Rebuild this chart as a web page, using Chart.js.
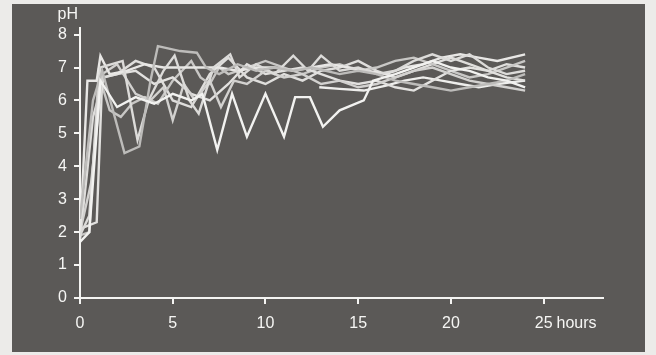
<!DOCTYPE html>
<html><head><meta charset="utf-8">
<script src="https://cdn.jsdelivr.net/npm/chart.js@4/dist/chart.umd.min.js"></script>
<style>
html,body{margin:0;padding:0;background:#ecebe9;width:656px;height:355px;overflow:hidden;}
#panel{position:absolute;left:12px;top:4px;width:633px;height:348px;background:#5b5957;}
canvas{display:block;}
</style></head><body>
<div id="panel"><canvas id="c" width="633" height="348"></canvas></div>
<script>
const xTicks = [0, 5, 10, 15, 20, 25];
const yTicks = [0, 1, 2, 3, 4, 5, 6, 7, 8];
const xUnit = 'hours';
const yUnit = 'pH';

const t1 = [0, 0.5, 1.1, 2, 3, 4, 5, 6, 6.6, 7.4, 8.2, 9, 10, 11, 11.6, 12.4, 13.1, 14, 15.3, 15.8, 17, 18, 19, 20, 21, 22, 23, 24];
const p1 = [1.7, 2.0, 6.6, 5.8, 6.1, 5.9, 6.2, 6.0, 6.2, 4.5, 6.2, 4.9, 6.2, 4.9, 6.1, 6.1, 5.2, 5.7, 6.0, 6.6, 6.8, 7.0, 7.2, 7.0, 6.9, 6.7, 6.6, 6.4];
const t2 = [0, 0.7, 1.2, 2.4, 3.2, 3.8, 4.2, 5.4, 6.3, 6.8, 7.5, 8.5, 9.5, 10.5, 11.5, 12.5, 14, 15, 16, 17, 18, 19, 20, 21, 22, 23, 24];
const p2 = [2.4, 6.0, 6.9, 4.4, 4.6, 6.6, 7.65, 7.5, 7.45, 7.0, 6.8, 7.1, 6.9, 7.0, 6.9, 7.0, 6.8, 6.9, 6.8, 6.6, 6.5, 6.4, 6.3, 6.4, 6.5, 6.6, 6.8];
const t3 = [0, 0.5, 1.1, 2.3, 3.1, 3.7, 4.5, 5.1, 5.9, 6.4, 7.2, 8.1, 8.6, 9.5, 10.5, 11.5, 12.3, 13, 14, 15, 16, 17, 18, 19, 20, 21, 22, 23, 24];
const p3 = [1.9, 2.5, 7.0, 7.2, 4.8, 6.0, 6.9, 7.36, 6.0, 5.6, 7.0, 7.4, 6.7, 7.1, 6.8, 7.36, 6.9, 7.36, 6.9, 7.0, 6.8, 6.9, 7.2, 7.4, 7.2, 7.4, 7.0, 6.8, 6.9];
const t4 = [0, 0.4, 0.9, 1.1, 1.6, 2.5, 3.5, 4.5, 5.5, 6.5, 7.5, 8.5, 9.5, 10.5, 11.5, 12.5, 13.5, 14.5, 15.5, 16.5, 17.5, 18.5, 19.5, 20.5, 21.5, 22.5, 24];
const p4 = [1.8, 6.6, 6.6, 7.35, 6.8, 6.9, 7.1, 7.0, 7.0, 7.0, 7.0, 6.9, 7.0, 7.0, 6.9, 7.0, 7.1, 7.0, 6.9, 6.8, 7.0, 7.1, 7.3, 7.4, 7.3, 7.2, 7.4];
const t5 = [0, 0.6, 1.2, 2, 3, 3.8, 4.5, 5, 5.6, 6.2, 7, 7.6, 8.3, 9, 10, 11, 12, 13, 14, 15, 16, 17, 18, 19, 20, 21, 22, 23, 24];
const p5 = [2.0, 3.5, 6.8, 7.1, 6.2, 6.0, 6.4, 5.4, 6.5, 6.0, 6.6, 5.8, 6.6, 6.5, 6.9, 6.7, 6.8, 6.5, 6.6, 6.4, 6.5, 6.7, 6.9, 7.0, 6.8, 6.6, 6.5, 6.4, 6.3];
const t6 = [0, 0.9, 1.2, 2, 3, 4, 5, 6, 7, 8, 9, 10, 11, 12, 13, 14, 15, 16, 17, 18, 19, 20, 21, 22, 23, 24];
const p6 = [2.1, 2.3, 6.7, 6.8, 6.9, 6.5, 6.7, 6.2, 6.0, 6.5, 7.1, 6.8, 6.9, 7.0, 6.8, 6.6, 6.5, 6.6, 6.4, 6.3, 6.6, 6.9, 7.0, 6.9, 6.7, 6.6];
const t7 = [12.9, 14, 15.3, 16.5, 17.5, 18.5, 19.5, 20.5, 21.5, 22.5, 24];
const p7 = [6.4, 6.35, 6.3, 6.45, 6.6, 6.7, 6.6, 6.5, 6.4, 6.5, 6.6];
const t8 = [0, 0.5, 1.0, 1.6, 2.2, 2.8, 3.5, 4.2, 5, 6, 6.5, 7, 7.5, 8, 9, 10, 11, 12, 13, 14, 15, 16, 17, 18, 19, 20, 21, 22, 23, 24];
const p8 = [1.9, 2.0, 6.8, 5.7, 5.5, 5.9, 6.1, 5.9, 6.6, 7.2, 6.7, 6.5, 7.0, 6.8, 7.0, 7.2, 7.0, 6.8, 7.0, 7.1, 6.9, 7.0, 7.2, 7.3, 7.1, 6.9, 6.7, 6.8, 7.0, 7.2];
const t9 = [0, 0.7, 1.3, 2, 3, 4, 5, 6, 7, 8, 9, 10, 11, 12, 13, 14, 15, 16, 17, 18, 19, 20, 21, 22, 23, 24];
const p9 = [1.8, 5.5, 6.7, 6.8, 7.2, 7.0, 6.0, 5.8, 6.8, 7.3, 6.7, 6.5, 6.8, 6.6, 6.9, 7.0, 7.2, 6.9, 6.7, 6.9, 7.1, 7.3, 7.1, 6.9, 7.1, 7.0];

const seriesTimes = [t1, t2, t3, t4, t5, t6, t7, t8, t9];
const seriesPH = [p1, p2, p3, p4, p5, p6, p7, p8, p9];
const lineColors = ['#f2f2f0', '#bdbcba', '#dcdbd9', '#e8e7e5', '#d2d1cf', '#e2e1df', '#eeeeec', '#c8c7c5', '#dfdedc'];

const datasets = seriesTimes.map((ts, i) => ({
  data: ts.map((h, j) => ({ x: h, y: seriesPH[i][j] })),
  borderColor: lineColors[i],
  borderWidth: 2.4,
  pointRadius: 0,
  tension: 0,
  fill: false
}));

const textColor = '#f6f6f4';
const font = { family: 'Liberation Sans, Arial, Helvetica, sans-serif', size: 16 };
const xTickPad = 10;

const unitLabels = {
  id: 'unitLabels',
  afterDraw(chart) {
    const ctx = chart.ctx;
    const xs = chart.scales.x, ys = chart.scales.y;
    ctx.save();
    ctx.fillStyle = textColor;
    ctx.font = font.size + 'px ' + font.family;
    ctx.textBaseline = 'middle';
    ctx.textAlign = 'right';
    ctx.fillText(yUnit, xs.getPixelForValue(0) - 2, ys.getPixelForValue(8) - 20);
    ctx.textAlign = 'left';
    const last = xTicks[xTicks.length - 1];
    const w = ctx.measureText(String(last)).width;
    ctx.fillText(xUnit, xs.getPixelForValue(last) + w / 2 + 4, ys.bottom + 6 + xTickPad + font.size * 0.6);
    ctx.restore();
  }
};

new Chart(document.getElementById('c'), {
  type: 'line',
  data: { datasets },
  options: {
    responsive: false,
    animation: false,
    plugins: { legend: { display: false }, tooltip: { enabled: false } },
    layout: { padding: { top: 24, right: 42, left: 0, bottom: 0 } },
    scales: {
      x: {
        type: 'linear',
        min: 0, max: 28.2,
        afterFit(s) { s.height = 54; },
        border: { display: true, color: '#f4f4f2', width: 2 },
        grid: { display: true, drawOnChartArea: false, drawTicks: true, tickLength: 6, color: '#f4f4f2', lineWidth: 2 },
        afterBuildTicks(s) { s.ticks = xTicks.map(v => ({ value: v })); },
        ticks: { color: textColor, font, padding: xTickPad, maxRotation: 0, autoSkip: false }
      },
      y: {
        type: 'linear',
        min: 0, max: 8.2,
        afterFit(s) { s.width = 68; },
        border: { display: true, color: '#f4f4f2', width: 2 },
        grid: { display: true, drawOnChartArea: false, drawTicks: true, tickLength: 6, color: '#f4f4f2', lineWidth: 2 },
        afterBuildTicks(s) { s.ticks = yTicks.map(v => ({ value: v })); },
        ticks: { color: textColor, font, padding: 7, autoSkip: false }
      }
    }
  },
  plugins: [unitLabels]
});
</script>
</body></html>
